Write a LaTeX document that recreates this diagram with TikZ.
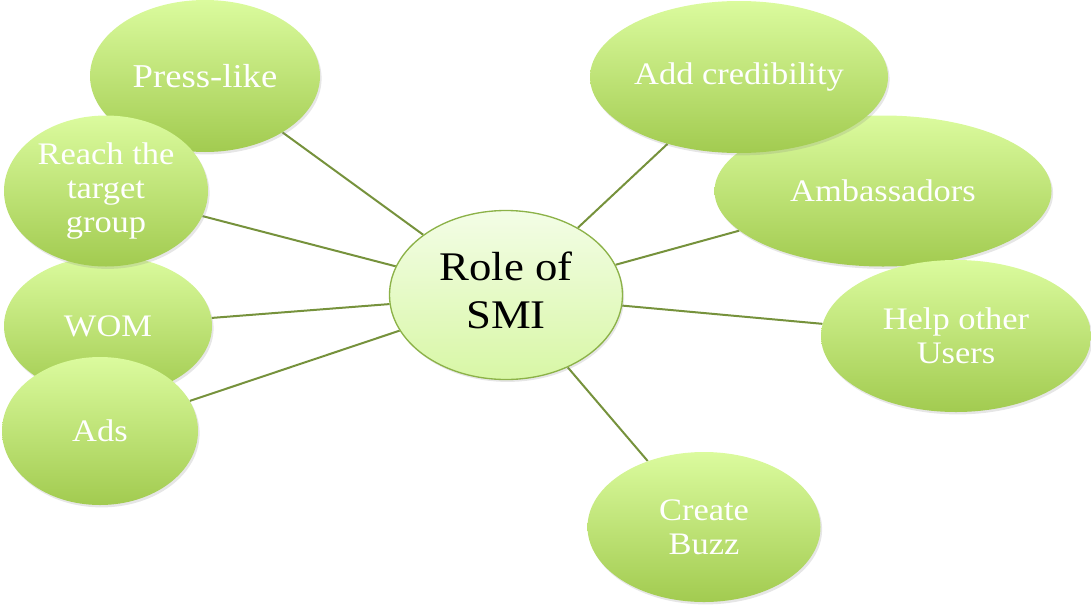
\documentclass[tikz,border=0pt]{standalone}
\usepackage{fontspec}
\setmainfont{Liberation Serif}[FakeStretch=1.1]
\usetikzlibrary{shapes.geometric,shadows}

\definecolor{leaftop}{RGB}{219,251,158}
\definecolor{leafbot}{RGB}{162,203,80}
\definecolor{hubtop}{RGB}{243,253,230}
\definecolor{hubbot}{RGB}{216,247,166}
\definecolor{hubline}{RGB}{140,178,72}
\definecolor{linkcol}{RGB}{118,146,60}

\pgfdeclarelayer{back}
\pgfsetlayers{back,main}

\begin{document}
\begin{tikzpicture}[x=0.75pt, y=-0.75pt,
  leaf node/.style={ellipse, inner sep=0pt, top color=leaftop, bottom color=leafbot,
    text=white, align=center, font=\fontsize{23.5}{25.5}\selectfont,
    drop shadow={shadow xshift=1.2pt, shadow yshift=-1.8pt, opacity=0.2}},
  hub node/.style={ellipse, inner sep=0pt, draw=hubline, line width=1pt,
    top color=hubtop, bottom color=hubbot, text=black,
    font=\fontsize{30.5}{36}\selectfont,
    drop shadow={shadow xshift=1.2pt, shadow yshift=-1.8pt, opacity=0.2}},
  link/.style={linkcol, line width=1.5pt}]
\useasboundingbox (0,0) rectangle (1091,607);

% left side
\node[leaf node, minimum width=172.5pt, minimum height=114pt, font=\fontsize{25}{28}\selectfont]
  (press) at (205,76) {Press-like};
\node[leaf node, minimum width=156pt, minimum height=105pt]    (wom)   at (108,326) {WOM};
\node[leaf node, minimum width=153pt, minimum height=113.25pt] (reach) at (106,191) {Reach the\\target\\group};
\node[leaf node, minimum width=147pt, minimum height=111pt]    (ads)   at (100,431) {Ads};

% right side
\node[leaf node, minimum width=252.75pt, minimum height=113.25pt] (amb)  at (883,191) {Ambassadors};
\node[leaf node, minimum width=223.5pt, minimum height=114pt]     (cred) at (739,77)  {Add credibility};
\node[leaf node, minimum width=202.5pt, minimum height=114pt]     (help) at (956,336) {Help other\\Users};
\node[leaf node, minimum width=174.75pt, minimum height=112.5pt]  (buzz) at (704,527) {Create\\Buzz};

% centre
\node[hub node, minimum width=174.75pt, minimum height=126.75pt] (smi) at (506,295)
  {\raisebox{7pt}{\begin{tabular}{@{}c@{}}Role of\\SMI\end{tabular}}};

\begin{pgfonlayer}{back}
\path[link]
(smi) edge (press)
      edge (reach)
      edge (wom)
      edge (ads)
      edge (cred)
      edge (amb)
      edge (help)
      edge (buzz);
\end{pgfonlayer}
\end{tikzpicture}
\end{document}
